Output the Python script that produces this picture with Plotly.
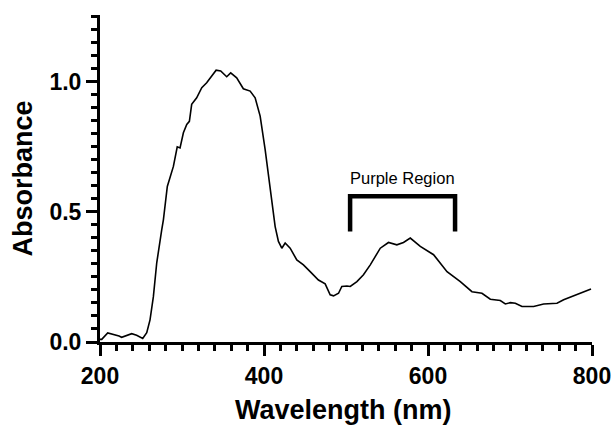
import plotly.graph_objects as go

wavelength = [200, 202.1, 209.4, 216.2, 223.2, 226.4, 232.6, 238.7, 244.7, 252.1, 257.0, 261.0,
              265.1, 269.2, 275.3, 277.3, 282.1, 289.5, 294.2, 297.6, 301.7, 305.8, 309.0,
              311.8, 317.9, 324.1, 330.1, 336.3, 341.6, 347.2, 354.5, 359.4, 366.7, 374.8,
              383.1, 389.2, 395.3, 401.4, 407.5, 413.6, 417.6, 421.7, 425.8, 431.9, 440.0,
              448.1, 456.3, 466.4, 474.6, 480.7, 484.8, 490.9, 494.9, 501.1, 505.2, 513.3,
              521.3, 529.6, 541.8, 551.8, 562.0, 570.1, 578.4, 590.6, 606.8, 623.2, 639.4,
              653.6, 665.8, 676.0, 688.2, 694.3, 700.4, 706.5, 714.6, 728.8, 741.0, 757.3,
              765.4, 775.6, 785.9, 798.8]
absorbance = [0.010, 0.010, 0.035, 0.030, 0.023, 0.018, 0.026, 0.032, 0.026, 0.014, 0.036, 0.085,
              0.174, 0.304, 0.431, 0.469, 0.597, 0.674, 0.749, 0.745, 0.803, 0.835, 0.847,
              0.912, 0.937, 0.976, 0.995, 1.020, 1.043, 1.040, 1.018, 1.033, 1.014, 0.972,
              0.963, 0.937, 0.867, 0.738, 0.597, 0.443, 0.386, 0.360, 0.380, 0.360, 0.315,
              0.296, 0.270, 0.238, 0.223, 0.181, 0.177, 0.187, 0.213, 0.215, 0.213, 0.232,
              0.258, 0.296, 0.360, 0.382, 0.373, 0.382, 0.399, 0.367, 0.335, 0.270, 0.232,
              0.193, 0.187, 0.164, 0.159, 0.146, 0.151, 0.149, 0.136, 0.136, 0.146, 0.149,
              0.162, 0.174, 0.187, 0.203]

bracket_x = [505, 505, 633, 633]
bracket_y = [0.424, 0.559, 0.559, 0.424]
bracket_label = "Purple Region"

x_ticks = [200, 400, 600, 800]
y_ticks = [0.0, 0.5, 1.0]
y_ticklabels = ["0.0", "0.5", "1.0"]

fig = go.Figure()
fig.add_trace(go.Scatter(x=wavelength, y=absorbance, mode="lines",
                         line=dict(color="black", width=1.6), showlegend=False,
                         hoverinfo="skip"))
fig.add_trace(go.Scatter(x=bracket_x, y=bracket_y, mode="lines",
                         line=dict(color="black", width=4.5), showlegend=False,
                         hoverinfo="skip"))
fig.add_annotation(x=sum(bracket_x) / 4, y=0.63, text=bracket_label, showarrow=False,
                   xanchor="center", yanchor="middle",
                   font=dict(family="Arial", size=16.5, color="black"))

# axis titles as annotations for exact placement
fig.add_annotation(xref="paper", yref="paper", x=0.5, y=0, yshift=-68, xshift=-3,
                   xanchor="center", yanchor="middle",
                   text="<b>Wavelength (nm)</b>", showarrow=False,
                   font=dict(family="Arial", size=27, color="black"))
fig.add_annotation(xref="paper", yref="paper", x=0, y=0.5, xshift=-78, yshift=0,
                   xanchor="center", yanchor="middle",
                   text="<b>Absorbance</b>", textangle=-90, showarrow=False,
                   font=dict(family="Arial", size=27, color="black"))

tf = dict(family="Arial", size=23, color="black", weight="bold")
fig.update_layout(
    width=611, height=427,
    margin=dict(l=100, r=19, t=15, b=85),
    paper_bgcolor="white", plot_bgcolor="white",
    font=dict(family="Arial", color="black"),
    hovermode=False,
    xaxis=dict(range=[200, 800], tickvals=x_ticks, ticks="outside", ticklen=11, tickwidth=3,
               tickcolor="black", showline=True, linewidth=3, linecolor="black",
               showgrid=False, zeroline=False, automargin=False,
               ticklabeloverflow="allow", tickfont=tf,
               minor=dict(dtick=20, tick0=200, ticks="outside", ticklen=6, tickwidth=3,
                          tickcolor="black", showgrid=False)),
    yaxis=dict(range=[0, 1.255], tickvals=y_ticks, ticktext=y_ticklabels, ticks="outside",
               ticklen=11, tickwidth=3, tickcolor="black", showline=True, linewidth=3,
               linecolor="black", showgrid=False, zeroline=False, automargin=False,
               ticklabeloverflow="allow", tickfont=tf,
               minor=dict(dtick=0.05, tick0=0, ticks="outside", ticklen=6, tickwidth=3,
                          tickcolor="black", showgrid=False)),
)
fig.write_html("out.html", config={"displayModeBar": False},
               post_script="document.body.style.margin='0';document.body.style.overflow='hidden';")
